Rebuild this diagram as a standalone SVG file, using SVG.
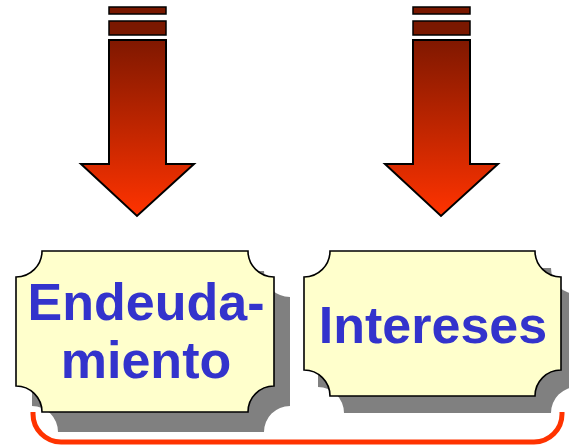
<svg xmlns="http://www.w3.org/2000/svg" width="569" height="448" viewBox="0 0 569 448">
<style>
.bar{fill:#7A1800;stroke:#000;stroke-width:1.5}
.arr{fill:url(#g);stroke:#000;stroke-width:2;stroke-linejoin:miter}
.box{fill:#FFFFCC;stroke:#000;stroke-width:1.6}
.sh{fill:#808080}
.t{font-family:"Liberation Sans",Arial,sans-serif;font-weight:bold;font-size:52px;fill:#3333CC;text-anchor:middle}
.br{fill:none;stroke:#FF3300;stroke-width:5}
</style>
<defs>
<linearGradient id="g" x1="0" y1="0" x2="0" y2="1">
<stop offset="0" stop-color="#801800"/>
<stop offset="1" stop-color="#FF3300"/>
</linearGradient>
</defs>
<g id="arrow1">
<rect class="bar" x="109" y="7" width="57" height="7"/>
<rect class="bar" x="109" y="21" width="57" height="14"/>
<path class="arr" d="M109,40 H166 V164 H194 L137,216 L81,164 H109 Z"/>
</g>
<g id="arrow2">
<rect class="bar" x="413" y="7" width="57" height="7"/>
<rect class="bar" x="413" y="21" width="57" height="14"/>
<path class="arr" d="M413,40 H470 V164 H498 L441,216 L385,164 H413 Z"/>
</g>
<g id="box1">
<path class="sh" d="M58,271 H264 A26,26 0 0 0 290,297 V406 A26,26 0 0 0 264,432 H58 A26,26 0 0 0 32,406 V297 A26,26 0 0 0 58,271 Z"/>
<path class="box" d="M42,251 H248 A26,26 0 0 0 274,277 V386 A26,26 0 0 0 248,412 H42 A26,26 0 0 0 16,386 V277 A26,26 0 0 0 42,251 Z"/>
<text class="t" x="146" y="320">Endeuda-</text>
<text class="t" x="146" y="378">miento</text>
</g>
<g id="box2">
<path class="sh" d="M344,268 H551 A26,26 0 0 0 577,294 V387 A26,26 0 0 0 551,413 H344 A26,26 0 0 0 318,387 V294 A26,26 0 0 0 344,268 Z"/>
<path class="box" d="M330,251 H535 A26,26 0 0 0 561,277 V370 A26,26 0 0 0 535,396 H330 A26,26 0 0 0 304,370 V277 A26,26 0 0 0 330,251 Z"/>
<text class="t" x="433" y="343">Intereses</text>
</g>
<g id="connectors">
<path class="br" d="M33,412 V414 A28,28 0 0 0 61,442 H534 A28,28 0 0 0 562,414 V412"/>
</g>
</svg>
